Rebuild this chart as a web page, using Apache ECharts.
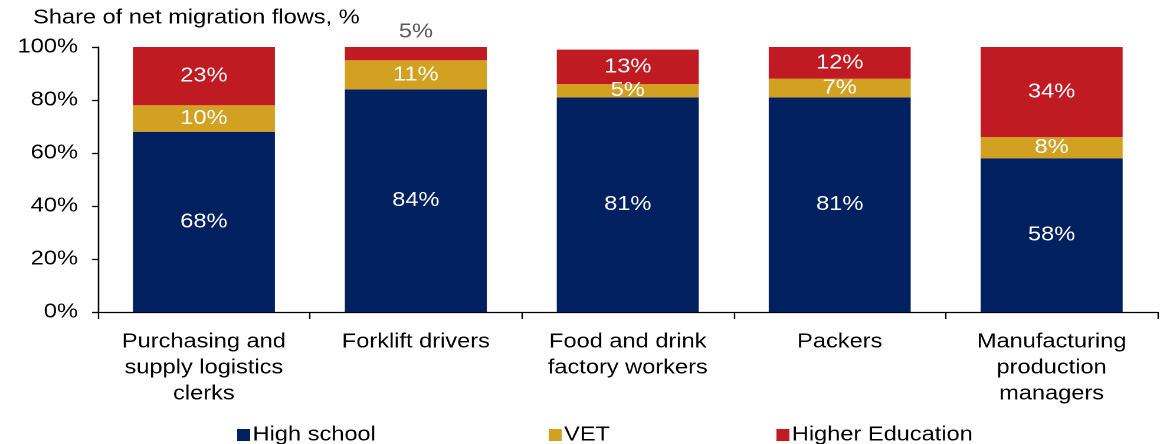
<!DOCTYPE html>
<html>
<head>
<meta charset="utf-8">
<script src="https://cdn.jsdelivr.net/npm/echarts@6/dist/echarts.min.js"></script>
<style>
  html, body { margin: 0; padding: 0; background: #fff; overflow: hidden; }
  /* The chart is laid out narrower and widened horizontally, giving the wide lettering */
  #chart { width: 988px; height: 444px; transform: scaleX(1.18); transform-origin: 0 0; }
</style>
</head>
<body>
<div id="chart"></div>
<script>
// Occupations (x-axis categories)
const categories = [
  'Purchasing and\nsupply logistics\nclerks',
  'Forklift drivers',
  'Food and drink\nfactory workers',
  'Packers',
  'Manufacturing\nproduction\nmanagers'
];

// Share of net migration flows by education level, %
const highSchool = [68, 84, 81, 81, 58];
const vet = [10, 11, 5, 7, 8];
const higherEducation = [23, 5, 13, 12, 34];

const seriesNames = ['High school', 'VET', 'Higher Education'];
const yTicks = { min: 0, max: 100, interval: 20 };

const FONT = 'Liberation Sans, Arial, sans-serif';
const COLORS = ['#002060', '#D3A121', '#C01B22'];
const LEGEND_LEFT = [201, 465, 658];

// Segments too thin for an inside label get their label above the bar, in grey
const SMALL = 6;

function makeSeries(name, values, color) {
  return {
    name: name,
    type: 'bar',
    stack: 'total',
    barWidth: '67%',
    itemStyle: { color: color },
    data: values.map(function (v) {
      const item = { value: v };
      if (v < SMALL && name === seriesNames[2]) {
        item.label = { position: 'top', color: '#595959', distance: 5 };
      }
      return item;
    }),
    label: {
      show: true,
      position: 'inside',
      color: '#fff',
      fontFamily: FONT,
      fontSize: 20,
      formatter: '{c}%'
    }
  };
}

// One legend block per series, spread along the bottom
const legends = seriesNames.map(function (name, i) {
  return {
    data: [name],
    left: LEGEND_LEFT[i],
    top: 425,
    padding: 0,
    itemWidth: 11,
    itemHeight: 12,
    icon: 'rect',
    selectedMode: false,
    textStyle: { fontFamily: FONT, fontSize: 20, color: '#000', padding: [0, 0, 0, -3] }
  };
});

const chart = echarts.init(document.getElementById('chart'), null, { renderer: 'canvas', devicePixelRatio: 2 });
chart.setOption({
  animation: false,
  color: COLORS,
  title: {
    text: 'Share of net migration flows, %',
    left: 23,
    top: 3,
    textStyle: { fontFamily: FONT, fontSize: 20, fontWeight: 'normal', color: '#000' }
  },
  grid: { left: 83, right: 7, top: 47, bottom: 132 },
  legend: legends,
  xAxis: {
    type: 'category',
    data: categories,
    axisLine: { lineStyle: { color: '#000', width: 1.3 } },
    axisTick: { show: true, length: 7, lineStyle: { color: '#000', width: 1.2 } },
    axisLabel: {
      fontFamily: FONT,
      fontSize: 20,
      color: '#000',
      lineHeight: 26,
      margin: 17,
      interval: 0
    }
  },
  yAxis: {
    type: 'value',
    min: yTicks.min,
    max: yTicks.max,
    interval: yTicks.interval,
    splitLine: { show: false },
    axisLine: { show: true, lineStyle: { color: '#000', width: 1.3 } },
    axisTick: { show: true, length: 5, lineStyle: { color: '#000', width: 1.3 } },
    axisLabel: {
      fontFamily: FONT,
      fontSize: 20,
      color: '#000',
      margin: 17,
      formatter: '{value}%'
    }
  },
  series: [
    makeSeries(seriesNames[0], highSchool, COLORS[0]),
    makeSeries(seriesNames[1], vet, COLORS[1]),
    makeSeries(seriesNames[2], higherEducation, COLORS[2])
  ]
});
</script>
</body>
</html>
